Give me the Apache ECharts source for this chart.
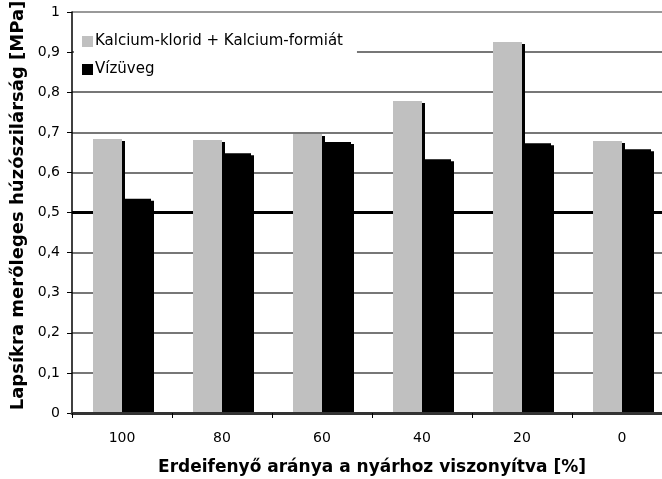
<!DOCTYPE html>
<html>
<head>
<meta charset="utf-8">
<script src="https://cdn.jsdelivr.net/npm/echarts@6/dist/echarts.min.js"></script>
<style>
  html, body { margin: 0; padding: 0; background: #fff; }
  #chart { width: 662px; height: 479px; }
</style>
</head>
<body>
<div id="chart"></div>
<script>
const categories = ['100', '80', '60', '40', '20', '0'];
const kalcium = [0.683, 0.681, 0.696, 0.778, 0.925, 0.678];
const vizuveg = [0.534, 0.648, 0.676, 0.633, 0.673, 0.658];
const threshold = 0.5;
const seriesNames = ['Kalcium-klorid + Kalcium-formiát', 'Vízüveg'];

const font = 'DejaVu Sans, Verdana, sans-serif';
const myChart = echarts.init(document.getElementById('chart'), null, { renderer: 'canvas' });

const barStyle = color => ({
  color: color,
  shadowColor: '#000',
  shadowBlur: 0,
  shadowOffsetX: 3,
  shadowOffsetY: 2
});

myChart.setOption({
  animation: false,
  backgroundColor: '#fff',
  grid: { left: 72, right: -10, top: 12, bottom: 66, outerBoundsMode: 'none', containLabel: false },
  legend: {
    data: seriesNames,
    orient: 'vertical',
    left: 74,
    top: 29,
    padding: [5, 14, 5, 8],
    backgroundColor: '#fff',
    itemWidth: 11,
    itemHeight: 11,
    itemGap: 13,
    icon: 'rect',
    itemStyle: { shadowBlur: 0, shadowOffsetX: 0, shadowOffsetY: 0, shadowColor: 'rgba(0,0,0,0)' },
    textStyle: { fontFamily: font, fontSize: 15, color: '#000', padding: [0, 0, 0, -3] }
  },
  xAxis: {
    type: 'category',
    data: categories,
    zlevel: 2,
    axisLine: { lineStyle: { color: '#333', width: 3 } },
    axisTick: { show: true, length: 5, lineStyle: { color: '#000' } },
    axisLabel: { fontFamily: font, fontSize: 14, color: '#000', margin: 18 },
    name: 'Erdeifenyő aránya a nyárhoz viszonyítva [%]',
    nameLocation: 'middle',
    nameGap: 46,
    nameTextStyle: { fontFamily: font, fontSize: 17, fontWeight: 'bold', color: '#000' }
  },
  yAxis: {
    type: 'value',
    min: 0,
    max: 1,
    interval: 0.1,
    axisLine: { show: true, lineStyle: { color: '#000', width: 1.5 } },
    axisTick: { show: true, length: 5, lineStyle: { color: '#000' } },
    axisLabel: {
      fontFamily: font, fontSize: 14, color: '#000', margin: 12,
      formatter: v => (v === 0 ? '0' : v === 1 ? '1' : v.toFixed(1).replace('.', ','))
    },
    splitLine: {
      show: true,
      lineStyle: {
        width: 2,
        color: ['#777', '#777', '#777', '#777', '#777', '#777', '#777', '#777', '#777', '#777', '#999']
      }
    },
    name: 'Lapsíkra merőleges húzószilárság [MPa]',
    nameLocation: 'middle',
    nameGap: 42,
    nameTextStyle: { fontFamily: font, fontSize: 18, fontWeight: 'bold', color: '#000', padding: [0, 0, 0, 14] }
  },
  series: [
    {
      name: 'threshold',
      type: 'line',
      data: [],
      zlevel: 1,
      z: 1,
      silent: true,
      markLine: {
        symbol: 'none',
        silent: true,
        label: { show: false },
        lineStyle: { color: '#000', width: 3, type: 'solid' },
        data: [{ yAxis: threshold }]
      }
    },
    {
      name: seriesNames[0],
      type: 'bar',
      data: kalcium,
      barWidth: 29,
      barGap: '0%',
      zlevel: 1,
      z: 2,
      itemStyle: barStyle('#c0c0c0')
    },
    {
      name: seriesNames[1],
      type: 'bar',
      data: vizuveg,
      barWidth: 29,
      barGap: '0%',
      zlevel: 1,
      z: 2,
      itemStyle: barStyle('#000')
    }
  ]
});
</script>
</body>
</html>
